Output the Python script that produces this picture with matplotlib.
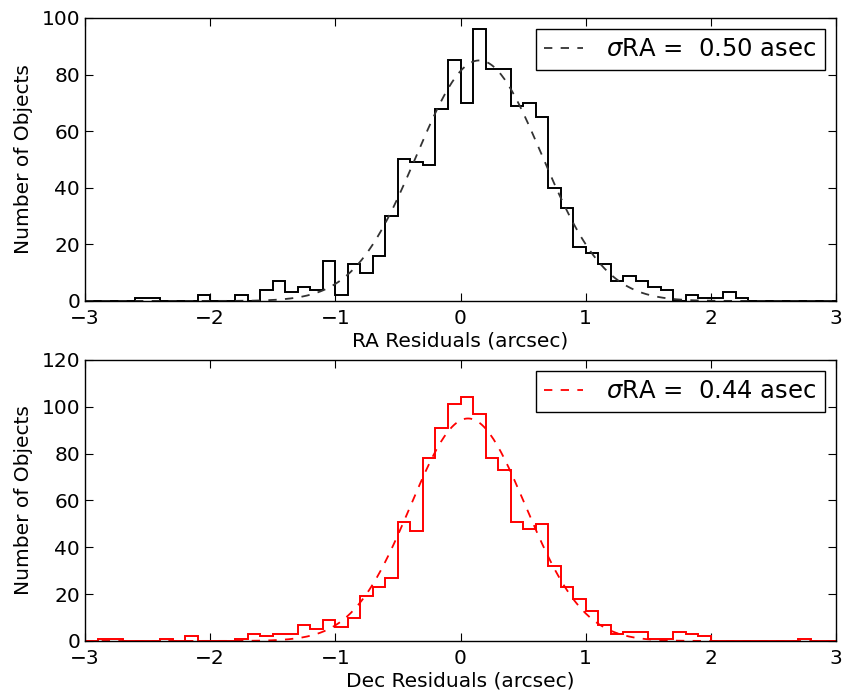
import matplotlib
matplotlib.use("Agg")
import matplotlib.pyplot as plt
import numpy as np

# histogram bins: 0.1 arcsec wide, from -3 to 3
BIN_START = -3.0
BIN_WIDTH = 0.1

# counts per bin (60 bins, left to right)
ra_counts = [
    0, 0, 0, 0, 1, 1, 0, 0, 0, 2,
    0, 0, 2, 0, 4, 7, 3, 5, 4, 14,
    2, 13, 10, 16, 30, 50, 49, 48, 68, 85,
    70, 96, 82, 82, 69, 70, 65, 40, 33, 19,
    17, 13, 7, 9, 7, 5, 4, 0, 2, 1,
    1, 3, 1, 0, 0, 0, 0, 0, 0, 0,
]
dec_counts = [
    0, 1, 1, 0, 0, 0, 1, 0, 2, 0,
    0, 0, 1, 3, 2, 3, 3, 7, 5, 9,
    6, 10, 19, 23, 27, 51, 47, 78, 91, 101,
    104, 97, 78, 73, 51, 48, 50, 32, 23, 18,
    13, 7, 3, 4, 4, 1, 1, 4, 3, 2,
    0, 0, 0, 0, 0, 0, 0, 1, 0, 0,
]

# gaussian fit parameters (mean, sigma, peak) as drawn
ra_fit = (0.15, 0.50, 85.0)
dec_fit = (0.06, 0.46, 95.0)
ra_label = r"$\sigma$RA =  0.50 asec"
dec_label = r"$\sigma$RA =  0.44 asec"

x_ticks = [-3, -2, -1, 0, 1, 2, 3]
ra_yticks = [0, 20, 40, 60, 80, 100]
dec_yticks = [0, 20, 40, 60, 80, 100, 120]

plt.rcParams["lines.scale_dashes"] = False


def draw_panel(ax, counts, fit, label, color, fit_color, xlabel, yticks):
    edges = BIN_START + BIN_WIDTH * np.arange(len(counts) + 1)
    centers = 0.5 * (edges[:-1] + edges[1:])
    ax.hist(centers, bins=edges, weights=counts, histtype="step",
            color=color, linewidth=1.4)
    mu, sig, amp = fit
    xs = np.linspace(-3, 3, 400)
    ax.plot(xs, amp * np.exp(-0.5 * ((xs - mu) / sig) ** 2),
            color=fit_color, linewidth=1.3, dashes=(6, 6), label=label)
    ax.set_xlim(-3, 3)
    ax.set_ylim(yticks[0], yticks[-1])
    ax.set_xticks(x_ticks)
    ax.set_yticks(yticks)
    ax.tick_params(direction="in", top=True, right=True, length=6,
                   labelsize=14.5, width=0.8)
    ax.tick_params(axis="x", pad=5.5)
    ax.set_xlabel(xlabel, fontsize=14.5, labelpad=3)
    ax.set_ylabel("Number of Objects", fontsize=14.5, labelpad=6)
    leg = ax.legend(loc="upper right", fontsize=17.5, fancybox=False,
                    framealpha=1, edgecolor="black", handlelength=1.6,
                    handletextpad=0.95, borderpad=0.35, borderaxespad=0.45)
    leg.get_frame().set_linewidth(1.0)
    for s in ax.spines.values():
        s.set_linewidth(1.0)


fig = plt.figure(figsize=(8.46, 6.94), dpi=100)
ax1 = fig.add_axes([0.1005, 0.5663, 0.8877, 0.4078])
ax2 = fig.add_axes([0.1005, 0.0764, 0.8877, 0.4050])

draw_panel(ax1, ra_counts, ra_fit, ra_label, "black", "#333333",
           "RA Residuals (arcsec)", ra_yticks)
draw_panel(ax2, dec_counts, dec_fit, dec_label, "red", "red",
           "Dec Residuals (arcsec)", dec_yticks)

fig.savefig("out.png", dpi=100)
